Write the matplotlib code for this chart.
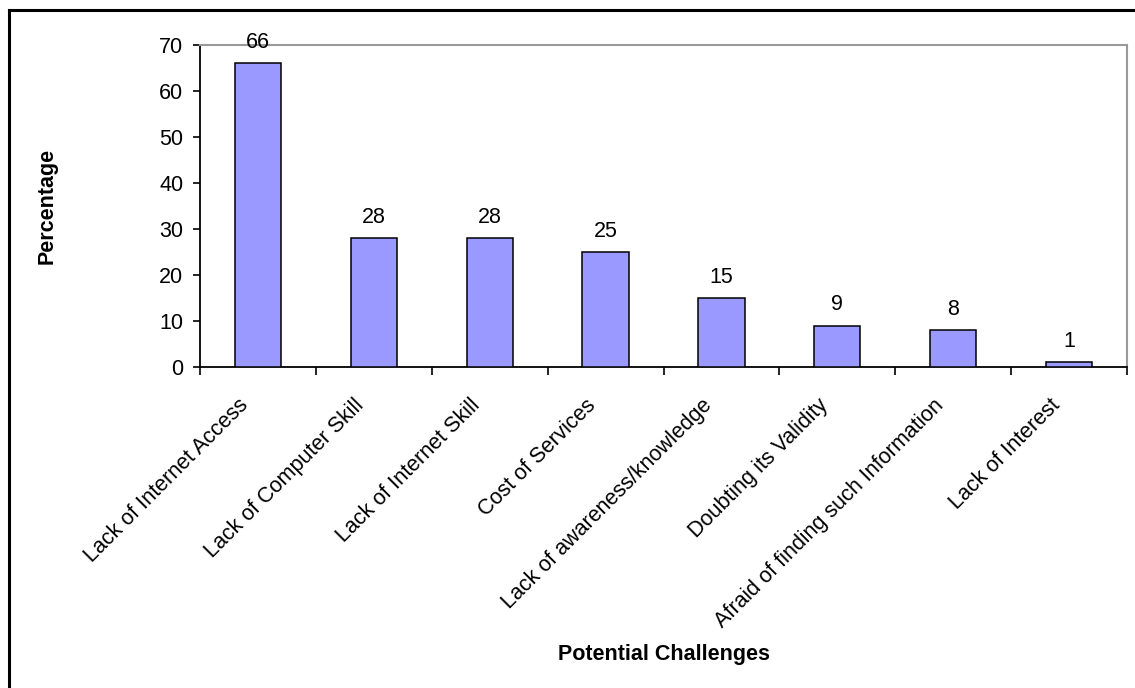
import matplotlib
matplotlib.use("Agg")
import matplotlib.pyplot as plt
from matplotlib.lines import Line2D
from matplotlib.transforms import ScaledTranslation

plt.rcParams['font.family'] = ['Liberation Sans', 'DejaVu Sans']

categories = [
    "Lack of Internet Access",
    "Lack of Computer Skill",
    "Lack of Internet Skill",
    "Cost of Services",
    "Lack of awareness/knowledge",
    "Doubting its Validity",
    "Afraid of finding such Information",
    "Lack of Interest",
]
percentages = [66, 28, 28, 25, 15, 9, 8, 1]
y_ticks = [0, 10, 20, 30, 40, 50, 60, 70]

FS = 15.5

fig = plt.figure(figsize=(11.35, 6.88), dpi=100)
ax = fig.add_axes([200 / 1135, 1 - 367 / 688, 927 / 1135, 322 / 688])

x = list(range(len(categories)))
ax.bar(x, percentages, width=0.4, color="#9999FF",
       edgecolor="black", linewidth=1.1, zorder=3)

for xi, v in zip(x, percentages):
    ax.annotate(str(v), (xi, v), xytext=(0, 11), textcoords="offset points",
                ha="center", va="baseline", fontsize=FS)

ax.set_xlim(-0.5, len(categories) - 0.5)
ax.set_ylim(0, 70)
ax.set_yticks(y_ticks)
ax.tick_params(axis="y", labelsize=FS, length=5, width=1.2,
               direction="out", pad=7)

# category ticks sit between bars, labels centred on the bars
ax.set_xticks([i - 0.5 for i in range(len(categories) + 1)])
ax.set_xticklabels([])
ax.tick_params(axis="x", length=6, width=1.2, direction="out")
ax.set_xticks(x, minor=True)
ax.set_xticklabels(categories, minor=True, rotation=45, ha="right",
                   rotation_mode="anchor", fontsize=FS)
ax.tick_params(axis="x", which="minor", length=0, pad=20)
shift = ScaledTranslation(-0.20, 0, fig.dpi_scale_trans)
for lbl in ax.get_xticklabels(minor=True):
    lbl.set_transform(lbl.get_transform() + shift)

for side in ("left", "bottom"):
    ax.spines[side].set_color("black")
    ax.spines[side].set_linewidth(1.3)
for side in ("top", "right"):
    ax.spines[side].set_color("#999999")
    ax.spines[side].set_linewidth(1.5)

ax.set_ylabel("Percentage", fontsize=FS, fontweight="bold")
ax.yaxis.set_label_coords(-0.154, 0.5)
ax.set_xlabel("Potential Challenges", fontsize=FS, fontweight="bold")
ax.xaxis.set_label_coords(0.5, -0.86)

# outer chart frame
fig.add_artist(Line2D([9 / 1135, 1], [1 - 10 / 688, 1 - 10 / 688],
                      transform=fig.transFigure, color="black", linewidth=2.2))
fig.add_artist(Line2D([9 / 1135, 9 / 1135], [0, 1 - 10 / 688],
                      transform=fig.transFigure, color="black", linewidth=2.2))

fig.savefig("out.png", dpi=100)
